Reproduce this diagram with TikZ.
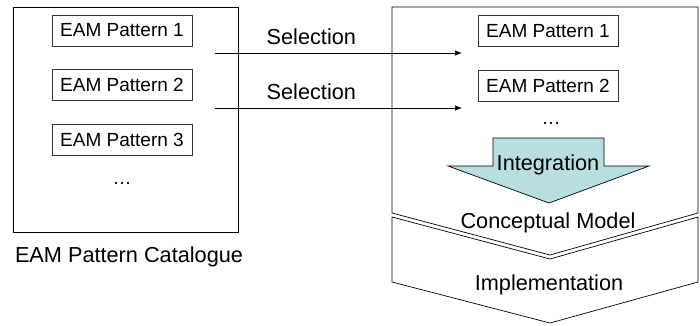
\documentclass[tikz,border=0pt]{standalone}
\usepackage{fontspec}
\setmainfont{Liberation Sans}
\usetikzlibrary{arrows.meta, positioning}
\definecolor{flowCyan}{HTML}{B8DEE2}

\begin{document}
\begin{tikzpicture}[
    x=1pt, y=-1pt,
    pat/.style={rectangle, draw=black!80, line width=0.7pt, minimum width=140pt,
                minimum height=31pt, inner sep=0pt, font=\fontsize{19}{22}\selectfont},
    big/.style={inner sep=0pt, font=\fontsize{21.7}{26}\selectfont},
    dots/.style={inner sep=0pt, font=\fontsize{19}{22}\selectfont},
    sel/.style={-{Latex[length=7pt, width=5.5pt]}, line width=0.7pt},
  ]
  \useasboundingbox (0,0) rectangle (700,325);

  % catalogue on the left
  \node[draw, line width=0.7pt, minimum width=225pt, minimum height=225pt,
        inner sep=0pt] (cat) at (125.5,119.5) {};
  \node[pat] (p1) at (122,30.5) {EAM Pattern 1};
  \node[pat, below=23pt of p1] (p2) {EAM Pattern 2};
  \node[pat, below=23pt of p2] (p3) {EAM Pattern 3};
  \node[dots] (d1) at (122,183) {\dots};
  \node[big] (catname) at (129,257) {EAM Pattern Catalogue};

  % conceptual model on the right
  \draw[line width=0.7pt] (392,7) -- (698,7) -- (698,213) -- (550,255)
    -- (392,213) -- cycle;
  \draw[line width=0.7pt] (392,217) -- (550,259) -- (698,217) -- (698,282)
    -- (550,323) -- (392,282) -- cycle;
  \node[pat] (q1) at (548,31) {EAM Pattern 1};
  \node[pat, below=23pt of q1] (q2) {EAM Pattern 2};
  \node[dots] (d2) at (551,123) {\dots};
  \draw[fill=flowCyan, line width=0.7pt] (493,138) -- (604,138) -- (604,166)
    -- (649,166) -- (549,203) -- (448,166) -- (493,166) -- cycle;
  \node[big] (integ) at (548,165) {Integration};
  \node[big] (concept) at (548,223) {Conceptual Model};
  \node[big] (impl) at (549,285) {Implementation};

  % selection arrows
  \coordinate (a1) at (215,53);
  \coordinate (b1) at (462,53);
  \coordinate (a2) at (215,108);
  \coordinate (b2) at (462,108);
  \draw[sel] (a1) -- node[big, above=8pt, pos=0.39] (s1) {Selection} (b1);
  \draw[sel] (a2) -- node[big, above=8pt, pos=0.39] (s2) {Selection} (b2);
\end{tikzpicture}
\end{document}
